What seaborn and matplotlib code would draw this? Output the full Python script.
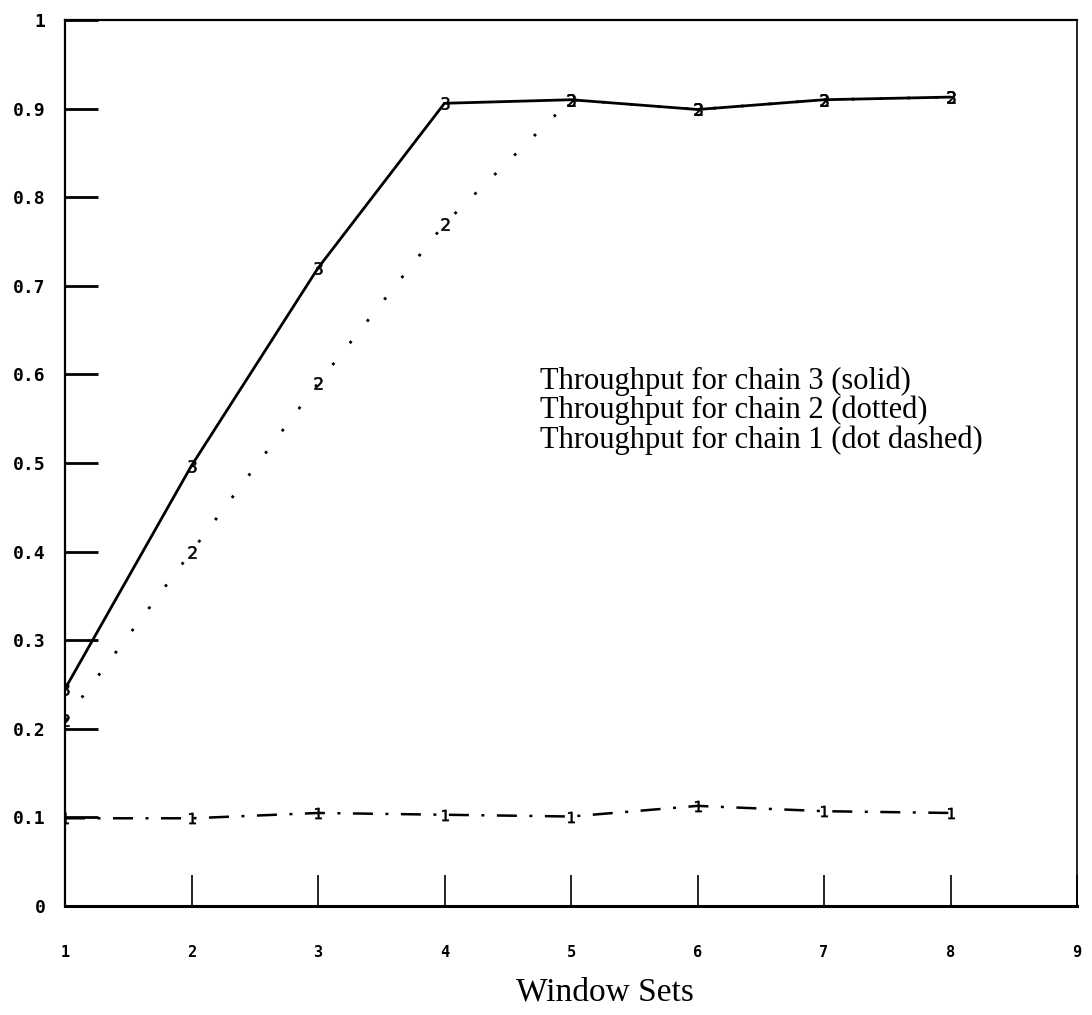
import matplotlib
matplotlib.use("Agg")
import matplotlib.pyplot as plt
import seaborn as sns
import numpy as np

window_sets = [1, 2, 3, 4, 5, 6, 7, 8]
chain3 = [0.245, 0.497, 0.720, 0.906, 0.910, 0.899, 0.910, 0.913]
chain2 = [0.210, 0.400, 0.590, 0.770, 0.910, 0.899, 0.910, 0.913]
chain1 = [0.099, 0.099, 0.105, 0.103, 0.101, 0.113, 0.107, 0.105]
xticks = [1, 2, 3, 4, 5, 6, 7, 8, 9]
yticks = [0, 0.1, 0.2, 0.3, 0.4, 0.5, 0.6, 0.7, 0.8, 0.9, 1]
ytick_labels = ["0", "0.1", "0.2", "0.3", "0.4", "0.5", "0.6", "0.7", "0.8", "0.9", "1"]
legend_lines = ["Throughput for chain 3 (solid)",
                "Throughput for chain 2 (dotted)",
                "Throughput for chain 1 (dot dashed)"]
xlabel = "Window Sets"

sns.set_theme(style="white")
plt.rcParams["font.family"] = ["DejaVu Sans"]

fig = plt.figure(figsize=(10.92, 10.15), dpi=100)
ax = fig.add_axes([65/1092, 1-906/1015, (1077-65)/1092, (906-20)/1015])

sns.lineplot(x=window_sets, y=chain2, ax=ax, color="black", linewidth=2.0,
             linestyle=(0, (1, 9)), marker="$2$", markersize=9, markeredgewidth=0.4,
             markeredgecolor="black", zorder=2)
sns.lineplot(x=window_sets, y=chain3, ax=ax, color="black", linewidth=2.0,
             linestyle="-", marker="$3$", markersize=9, markeredgewidth=0.4,
             markeredgecolor="black", zorder=3)
sns.lineplot(x=window_sets, y=chain1, ax=ax, color="black", linewidth=1.8,
             linestyle=(0, (8, 5, 1.2, 5)), marker="$1$", markersize=8, markeredgewidth=0.4,
             markeredgecolor="black", zorder=3)

ax.set_xlim(1, 9)
ax.set_ylim(0, 1)
ax.set_xticks(xticks)
ax.set_xticklabels([str(v) for v in xticks], fontfamily="DejaVu Sans Mono",
                   fontsize=11, fontweight="bold")
ax.set_yticks(yticks)
ax.set_yticklabels(ytick_labels, fontfamily="DejaVu Sans Mono", fontsize=13,
                   fontweight="bold")
ax.tick_params(axis="y", direction="in", length=24, width=2, color="black",
               left=True, pad=14, labelcolor="black")
ax.tick_params(axis="x", direction="in", length=22, width=1.2, color="black",
               bottom=True, pad=28, labelcolor="black")
for s in ax.spines.values():
    s.set_visible(True)
    s.set_color("black")
ax.spines["left"].set_linewidth(1.6)
ax.spines["bottom"].set_linewidth(2.2)
ax.spines["top"].set_linewidth(1.6)
ax.spines["right"].set_linewidth(1.2)
ax.grid(False)
if ax.get_legend():
    ax.get_legend().remove()

for i, t in enumerate(legend_lines):
    ax.text(4.755, 0.592 - i * 0.033, t, fontfamily="Liberation Serif",
            fontsize=22, color="black", va="center", ha="left")

fig.text(605/1092, 1 - 992/1015, xlabel, fontfamily="Liberation Serif",
         fontsize=24, color="black", ha="center", va="center")

fig.savefig("out.png", dpi=100, facecolor="white")
